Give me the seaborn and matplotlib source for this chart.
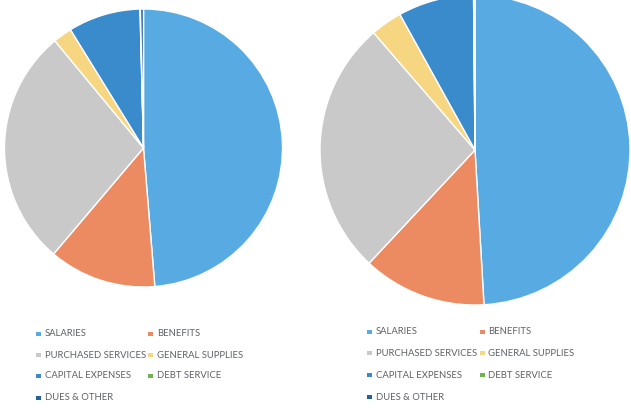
import matplotlib
matplotlib.use("Agg")
import matplotlib.pyplot as plt
import seaborn as sns
from matplotlib.patches import Rectangle

sns.set_theme(style="white")
plt.rcParams['font.family'] = ['Lato', 'DejaVu Sans']

categories = ["SALARIES", "BENEFITS", "PURCHASED SERVICES", "GENERAL SUPPLIES",
              "CAPITAL EXPENSES", "DEBT SERVICE", "DUES & OTHER"]
left_values = [48.7, 12.5, 27.8, 2.2, 8.4, 0.05, 0.35]
right_values = [49.1, 12.9, 26.7, 3.3, 7.9, 0.05, 0.1]
colors = ["#58abe2", "#ec8b62", "#c9c9c9", "#f6d680", "#3a8bcb", "#6bb54a", "#23629c"]

W, H = 631, 408
fig = plt.figure(figsize=(W / 100, H / 100), dpi=100)
fig.patch.set_facecolor("white")


def px_axes(cx, cy, r):
    return fig.add_axes([(cx - r) / W, (H - cy - r) / H, 2 * r / W, 2 * r / H])


def draw_pie(ax, values):
    ax.pie(values, colors=colors, startangle=90, counterclock=False,
           wedgeprops=dict(edgecolor="white", linewidth=1.0))
    ax.set_xlim(-1, 1)
    ax.set_ylim(-1, 1)
    ax.set_aspect("equal")
    ax.axis("off")


axl = px_axes(143.5, 148, 139)
draw_pie(axl, left_values)
axr = px_axes(475, 150, 155)
draw_pie(axr, right_values)


def draw_legend(mx1, tx1, mx2, tx2, rows):
    for i, (lab, col) in enumerate(zip(categories, colors)):
        r, c = divmod(i, 2)
        y = rows[r]
        mx = mx1 if c == 0 else mx2
        tx = tx1 if c == 0 else tx2
        fig.patches.append(Rectangle(((mx - 2.5) / W, (H - y - 2) / H), 5 / W, 4 / H,
                                     transform=fig.transFigure, facecolor=col,
                                     edgecolor="none"))
        fig.text(tx / W, (H - y) / H, lab, fontsize=6.8, color="#5f6266",
                 va="center", ha="left")


draw_legend(38, 45, 150, 157, [334, 355, 376, 398])
draw_legend(369, 376, 482, 488, [332, 353, 375, 397])

fig.savefig("out.png", dpi=100, facecolor="white")
